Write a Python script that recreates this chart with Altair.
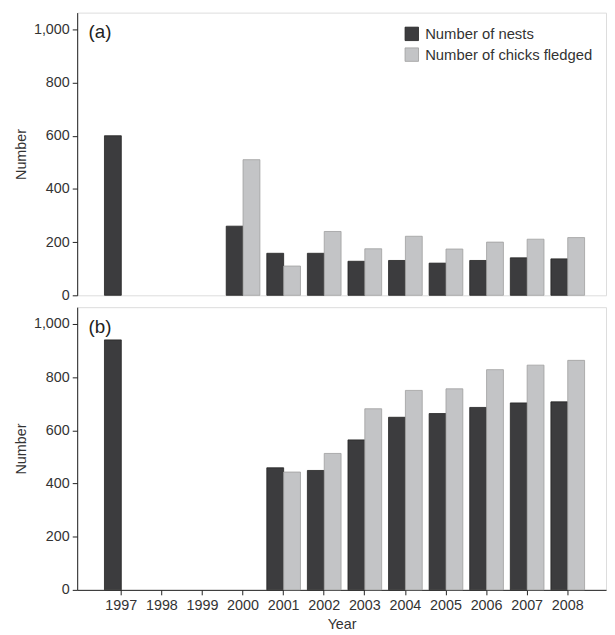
import altair as alt
import pandas as pd

years = ["1997", "1998", "1999", "2000", "2001", "2002", "2003", "2004", "2005", "2006", "2007", "2008"]
series = ["Number of nests", "Number of chicks fledged"]

# Panel (a)
a_nests = [600, None, None, 260, 158, 158, 128, 131, 121, 131, 141, 137]
a_chicks = [None, None, None, 510, 110, 240, 175, 222, 174, 200, 211, 217]
# Panel (b)
b_nests = [940, None, None, None, 459, 449, 564, 649, 663, 686, 703, 707]
b_chicks = [None, None, None, None, 443, 513, 681, 750, 756, 828, 845, 863]

y_ticks = [0, 200, 400, 600, 800, 1000]
panel_labels = ["(a)", "(b)"]

def frame(nests, chicks):
    rows = []
    for yr, n, c in zip(years, nests, chicks):
        if n is not None:
            rows.append({"year": yr, "series": series[0], "value": n})
        if c is not None:
            rows.append({"year": yr, "series": series[1], "value": c})
    return pd.DataFrame(rows)

FONT = "Liberation Sans"
TXT = "#333333"
FS = 14.5
W, H = 535, 286

xscale = alt.Scale(domain=years, paddingInner=0.17, paddingOuter=0.6, align=0.56)
yscale = alt.Scale(domain=[0, 1063], nice=False)
color_scale = alt.Scale(domain=series, range=["#3c3c3e", "#c3c4c6"])
stroke_scale = alt.Scale(domain=series, range=["#222222", "#9e9e9e"])

def panel(df, label, bottom, legend):
    if bottom:
        x_axis = alt.Axis(
            title="Year", labelAngle=0, labelFontSize=FS, labelColor=TXT, labelFont=FONT,
            titleFontSize=FS, titleFont=FONT, titleColor=TXT, titleFontWeight="normal",
            titlePadding=6, labelPadding=4, tickSize=5, tickColor="#222", domainColor="#222",
        )
    else:
        x_axis = None
    y_axis = alt.Axis(
        title="Number", values=y_ticks, format=",.0f", grid=False,
        labelFontSize=FS, labelColor=TXT, labelFont=FONT, labelPadding=3,
        titleFontSize=FS, titleFont=FONT, titleColor=TXT, titleFontWeight="normal",
        titlePadding=5, tickSize=5, tickColor="#222", domainColor="#222",
    )
    leg = None
    if legend:
        leg = alt.Legend(
            title=None, orient="none", legendX=331, legendY=14,
            symbolType="square", symbolSize=185, symbolStrokeWidth=0.8,
            labelFontSize=15, labelFont=FONT, labelColor=TXT, rowPadding=4, labelOffset=6,
            labelLimit=400,
        )
    bars = alt.Chart(df).mark_bar(strokeWidth=0.8).encode(
        x=alt.X("year:N", scale=xscale, axis=x_axis),
        xOffset=alt.XOffset("series:N", sort=series, scale=alt.Scale(domain=series, paddingInner=0, paddingOuter=0)),
        y=alt.Y("value:Q", scale=yscale, axis=y_axis),
        color=alt.Color("series:N", scale=color_scale, legend=leg, sort=series),
        stroke=alt.Stroke("series:N", scale=stroke_scale, legend=None, sort=series),
    )
    text = alt.Chart(pd.DataFrame({"t": [label]})).mark_text(
        align="center", baseline="middle", fontSize=19, font=FONT, color="#222"
    ).encode(text="t:N", x=alt.value(23), y=alt.value(20))
    return alt.layer(bars, text).properties(width=W, height=H)

top = panel(frame(a_nests, a_chicks), panel_labels[0], False, True)
bot = panel(frame(b_nests, b_chicks), panel_labels[1], True, False)

chart = alt.vconcat(top, bot, spacing=4).resolve_scale(color="shared", stroke="shared").properties(
    padding={"left": 5, "top": 0, "right": 0, "bottom": 0}
).configure_view(stroke="#222", strokeWidth=1).configure(background="white")

chart.save("out.html", embed_options={"renderer": "svg", "actions": False})
